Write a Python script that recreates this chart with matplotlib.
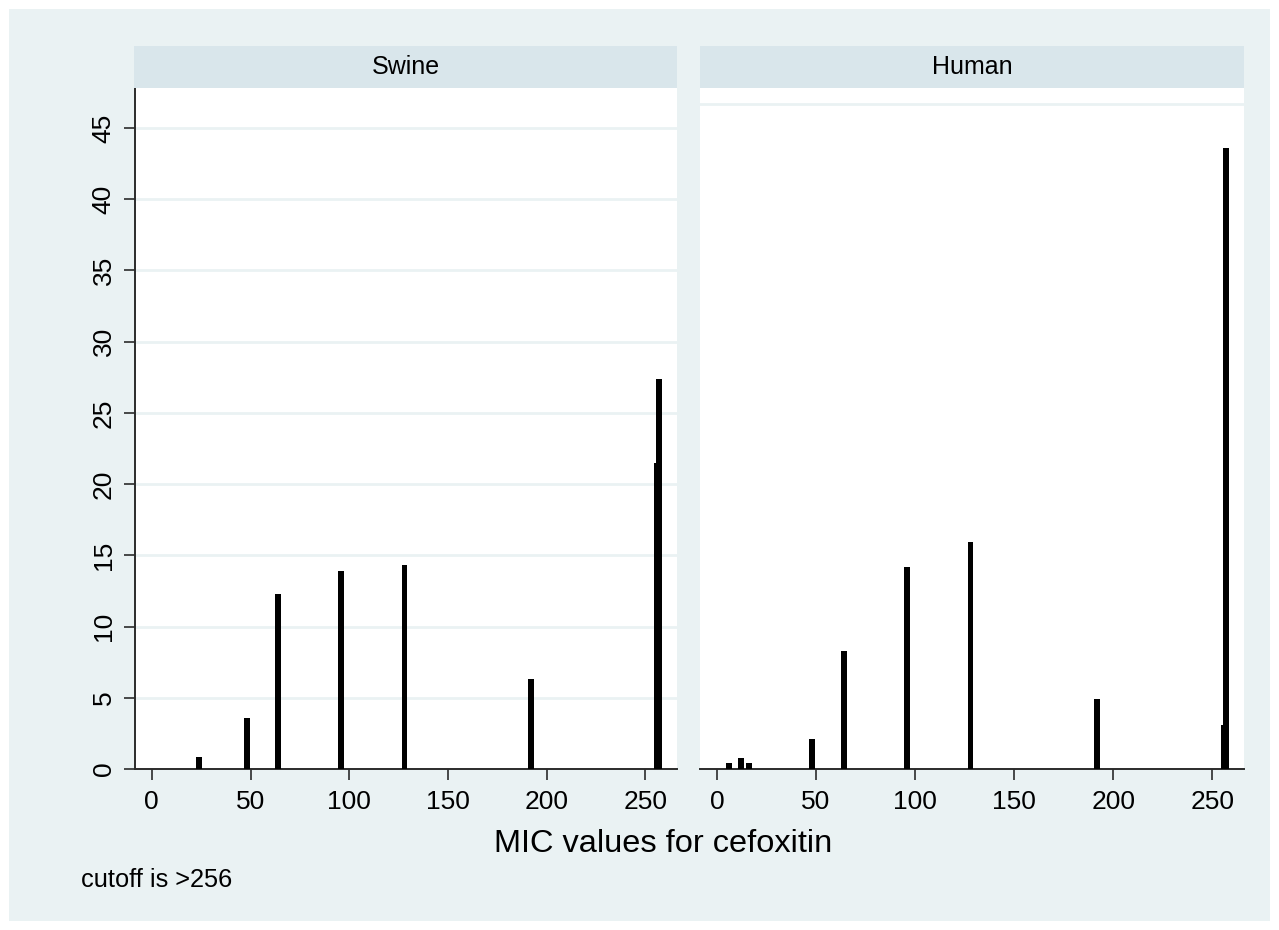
import numpy as np
import matplotlib
matplotlib.use("Agg")
import matplotlib.pyplot as plt
from matplotlib.patches import Rectangle

plt.rcParams['font.family'] = ['Liberation Sans', 'DejaVu Sans']

# MIC values (x) and percent of isolates (y), per host
swine_mic = [24, 48, 64, 96, 128, 192, 256, 257]
swine_pct = [0.84, 3.6, 12.3, 13.9, 14.3, 6.35, 21.5, 27.4]

human_mic = [6, 12, 16, 48, 64, 96, 128, 192, 256, 257]
human_pct = [0.4, 0.74, 0.4, 2.1, 8.3, 14.2, 15.9, 4.9, 3.1, 43.6]

panels = ["Swine", "Human"]
xticks = [0, 50, 100, 150, 200, 250]
yticks = [0, 5, 10, 15, 20, 25, 30, 35, 40, 45]

bg = "#eaf2f3"
strip_col = "#d9e6eb"
axcol = "#2b2b2b"
W, H = 1279, 930

fig = plt.figure(figsize=(W / 100, H / 100), dpi=100, facecolor="white")
fig.patches.append(Rectangle((9 / W, 9 / H), 1261 / W, 912 / H, transform=fig.transFigure,
                             facecolor=bg, edgecolor="none", zorder=-10))

def fx(px):
    return px / W

def fy(py):
    return 1 - py / H

left_ax = fig.add_axes([fx(135), fy(769), fx(677 - 135), (769 - 88) / H])
right_ax = fig.add_axes([fx(700), fy(769), fx(1244 - 700), (769 - 88) / H])

data = [(swine_mic, swine_pct), (human_mic, human_pct)]
strips = [(134, 677), (700, 1244)]

for i, ax in enumerate([left_ax, right_ax]):
    mic, pct = data[i]
    ax.set_facecolor("white")
    ax.bar(mic, pct, width=3.0, color="black", zorder=3)
    ax.set_xlim(-8.5, 266)
    ax.set_ylim(0, 47.8)
    ax.set_xticks(xticks)
    ax.tick_params(axis="x", direction="out", length=8, width=1.2, color=axcol,
                   labelsize=19, pad=7)
    for s in ["top", "right"]:
        ax.spines[s].set_visible(False)
    ax.spines["bottom"].set_color(axcol)
    ax.spines["bottom"].set_linewidth(1.4)
    if i == 0:
        ax.set_yticks(yticks)
        ax.set_yticklabels([str(v) for v in yticks], rotation=90, va="center")
        ax.tick_params(axis="y", direction="out", length=8, width=1.2, color=axcol,
                       labelsize=19, pad=6)
        ax.spines["left"].set_color(axcol)
        ax.spines["left"].set_linewidth(1.4)
        for v in yticks[1:]:
            ax.axhline(v, color=bg, lw=2, zorder=1)
    else:
        ax.set_yticks([])
        ax.spines["left"].set_visible(False)
        ax.axhline(46.7, color=bg, lw=2, zorder=1)

    x0, x1 = strips[i]
    fig.patches.append(Rectangle((fx(x0), fy(88)), fx(x1 - x0), 42 / H,
                                 transform=fig.transFigure, facecolor=strip_col,
                                 edgecolor="none"))
    fig.text(fx((x0 + x1) / 2), fy(67), panels[i], ha="center", va="center", fontsize=18)

fig.text(fx(663), fy(844), "MIC values for cefoxitin", ha="center", va="center", fontsize=23.4)
fig.text(fx(81), fy(880), "cutoff is >256", ha="left", va="center", fontsize=18.3)

fig.savefig("out.png", dpi=100, facecolor="white")
